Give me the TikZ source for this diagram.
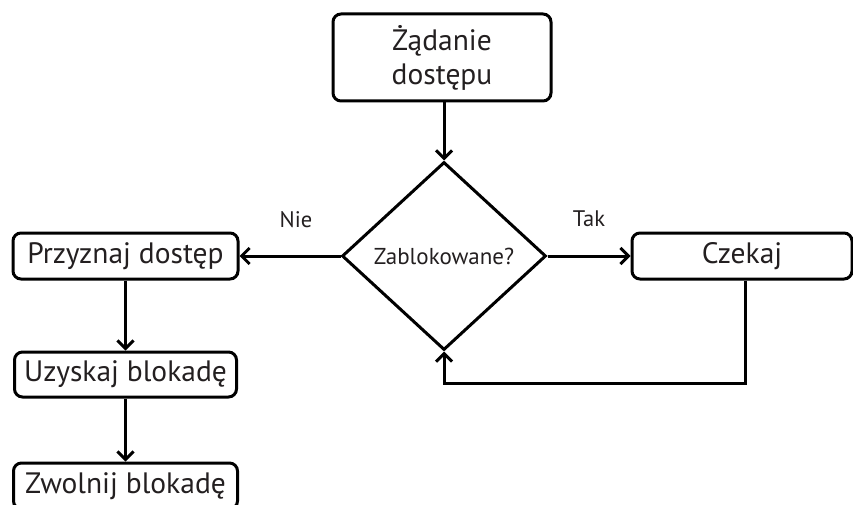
\documentclass[tikz,border=0pt]{standalone}
\usepackage{fontspec}
\setmainfont{PT Sans}
\usetikzlibrary{shapes.geometric,arrows.meta}
\definecolor{ink}{HTML}{231F20}
\begin{document}
\begin{tikzpicture}[x=1pt,y=-1pt,
  box/.style={draw=black,line width=3pt,rounded corners=8pt,inner sep=0pt,
    text=ink,font=\fontsize{29.5}{34}\selectfont,align=center},
  dec/.style={draw=black,line width=3pt,shape=diamond,inner sep=0pt,
    minimum width=204pt,minimum height=188pt,text=ink,font=\fontsize{23}{27}\selectfont},
  lbl/.style={text=ink,font=\fontsize{22.5}{26}\selectfont,inner sep=0pt},
  arr/.style={line width=3pt,-{Straight Barb[length=8pt,width=16pt,line width=3pt]}}]
\useasboundingbox (0,0) rectangle (853,505);
\node[box,minimum width=218pt,minimum height=87pt] (req) at (442,57.5) {Żądanie\\dostępu};
\node[dec] (dec) at (444,256) {Zablokowane?};
\node[box,minimum width=220pt,minimum height=46pt] (wait) at (742,256) {Czekaj};
\node[box,minimum width=225pt,minimum height=46pt] (grant) at (125.5,256) {Przyznaj dostęp};
\node[box,minimum width=222pt,minimum height=45pt] (acq) at (125.5,374.5) {Uzyskaj blokadę};
\node[box,minimum width=224pt,minimum height=46pt] (rel) at (125.5,486) {Zwolnij blokadę};
\node[lbl] (nie) at (296,220) {Nie};
\node[lbl] (tak) at (589,219) {Tak};
\draw[arr] (req.south -| dec.north) -- (dec.north);
\draw[arr] (dec.west) -- (grant.east);
\draw[arr] (dec.east) -- (wait.west);
\draw[arr] (grant.south) -- (acq.north);
\draw[arr] (acq.south) -- (rel.north);
\coordinate (loopA) at (745,383);
\draw[arr] ([xshift=3pt]wait.south) -- (loopA) -| (dec.south);
\end{tikzpicture}
\end{document}
